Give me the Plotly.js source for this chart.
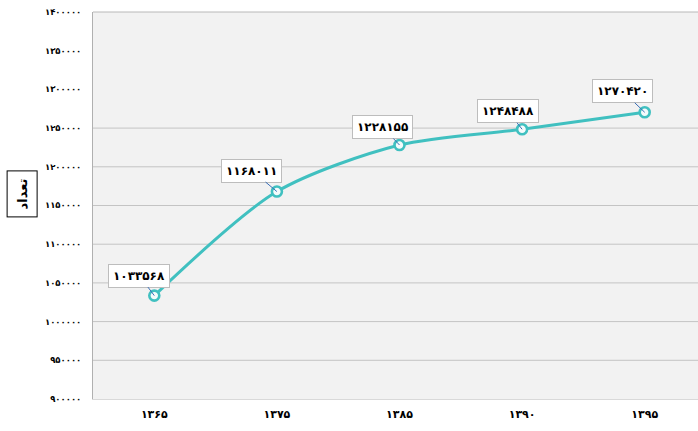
<!DOCTYPE html>
<html>
<head>
<meta charset="utf-8">
<script src="https://cdn.plot.ly/plotly-3.0.1.min.js"></script>
<style>
html,body{margin:0;padding:0;overflow:hidden;background:#fff;}
#chart{width:706px;height:431px;}
</style>
</head>
<body>
<div id="chart"></div>
<script>
// Data
const categories = ["۱۳۶۵", "۱۳۷۵", "۱۳۸۵", "۱۳۹۰", "۱۳۹۵"];
const values = [1033568, 1168011, 1228155, 1248488, 1270420];
const valueLabels = ["۱۰۳۳۵۶۸", "۱۱۶۸۰۱۱", "۱۲۲۸۱۵۵", "۱۲۴۸۴۸۸", "۱۲۷۰۴۲۰"];
const yTickVals = [900000, 950000, 1000000, 1050000, 1100000, 1150000, 1200000, 1250000, 1300000, 1350000, 1400000];
const yTickLabels = ["۹۰۰۰۰۰", "۹۵۰۰۰۰", "۱۰۰۰۰۰۰", "۱۰۵۰۰۰۰", "۱۱۰۰۰۰۰", "۱۱۵۰۰۰۰", "۱۲۰۰۰۰۰", "۱۲۵۰۰۰۰", "۱۳۰۰۰۰۰", "۱۳۵۰۰۰۰", "۱۴۰۰۰۰۰"];
const gridVals = [950000, 1000000, 1050000, 1100000, 1150000, 1200000, 1250000];
const yTitle = "تعداد";

// label offsets (style)
const labelAx = [-15, -25, -17, -14, -22];
const labelAy = [-20, -21, -18, -18, -21];

const teal = "#40c0c0";
const font = "DejaVu Sans, sans-serif";

const trace = {
  x: categories,
  y: values,
  type: "scatter",
  mode: "lines+markers",
  line: {color: teal, width: 3, shape: "spline", smoothing: 0.8},
  marker: {symbol: "circle", size: 10, color: "#f4fbfb", line: {width: 2.6, color: teal}},
  hoverinfo: "none",
  cliponaxis: false
};

const annotations = categories.map((c, i) => ({
  x: c, y: values[i], xref: "x", yref: "y",
  text: valueLabels[i],
  showarrow: true, arrowhead: 0, arrowwidth: 1, arrowcolor: "#3a6fb8",
  ax: labelAx[i], ay: labelAy[i],
  bgcolor: "#ffffff", bordercolor: "#bdbdbd", borderwidth: 1, borderpad: 4,
  font: {family: font, size: 12, color: "#000", weight: "bold"}
}));

annotations.push({
  xref: "paper", yref: "paper", x: -0.115, y: 0.53,
  xanchor: "center", yanchor: "middle",
  text: yTitle, textangle: -90, showarrow: false,
  bgcolor: "#ffffff", bordercolor: "#000000", borderwidth: 1, borderpad: 7,
  font: {family: font, size: 13, color: "#000", weight: "bold"}
});

const shapes = gridVals.map(v => ({
  type: "line", xref: "paper", yref: "y", x0: 0, x1: 1, y0: v, y1: v,
  line: {color: "#c4c4c4", width: 1}, layer: "below"
}));

const layout = {
  width: 706, height: 431,
  margin: {l: 93, r: 0, t: 12, b: 32},
  paper_bgcolor: "#ffffff",
  plot_bgcolor: "#f2f2f2",
  showlegend: false,
  xaxis: {
    type: "category",
    range: [-0.5, 4.5], autorange: false,
    showgrid: false, zeroline: false,
    showline: true, linecolor: "#d9d9d9", linewidth: 1,
    ticks: "outside", ticklen: 5, tickcolor: "rgba(0,0,0,0)",
    tickfont: {family: font, size: 11, color: "#000", weight: "bold"}
  },
  yaxis: {
    range: [900000, 1400000],
    tickvals: yTickVals, ticktext: yTickLabels,
    showgrid: false, zeroline: false,
    showline: true, linecolor: "#b0b0b0", linewidth: 1, mirror: false,
    ticks: "outside", ticklen: 9, tickcolor: "rgba(0,0,0,0)",
    tickfont: {family: font, size: 8.5, color: "#000", weight: "bold"}
  },
  shapes: shapes.concat([{
    type: "line", xref: "paper", yref: "paper", x0: 0, x1: 1, y0: 1, y1: 1,
    line: {color: "#b8b8b8", width: 1}
  }]),
  annotations: annotations
};

Plotly.newPlot("chart", [trace], layout, {staticPlot: true, displayModeBar: false});
</script>
</body>
</html>
